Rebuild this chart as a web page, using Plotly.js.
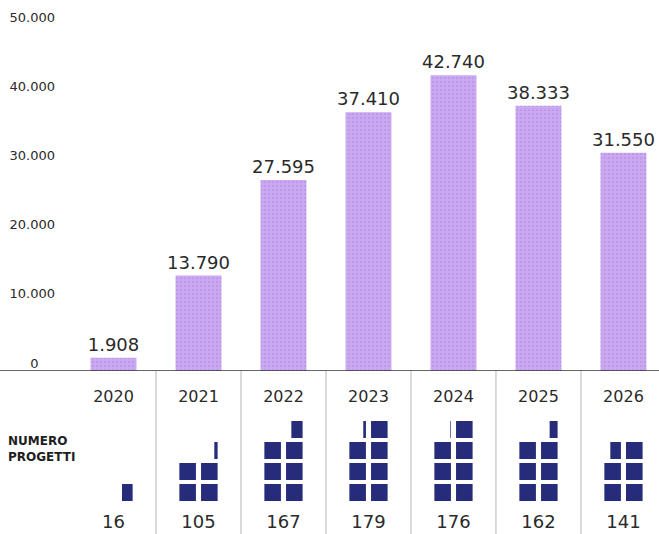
<!DOCTYPE html>
<html>
<head>
<meta charset="utf-8">
<script src="https://cdn.plot.ly/plotly-3.0.1.min.js"></script>
<style>html,body{margin:0;padding:0;background:#fff;}#chart{width:659px;height:534px;}</style>
</head>
<body>
<div id="chart"></div>
<script>
// ---- data ----
const years = ['2020', '2021', '2022', '2023', '2024', '2025', '2026'];
const amounts = [1908, 13790, 27595, 37410, 42740, 38333, 31550];
const projects = [16, 105, 167, 179, 176, 162, 141];
const yTickVals = [0, 10000, 20000, 30000, 40000, 50000];
const yTickText = ['0\u2007\u2007', '10.000', '20.000', '30.000', '40.000', '50.000'];
const perSquare = 25;
const projectsLabel = 'NUMERO<br>PROGETTI';

const FONT = '"DejaVu Sans", sans-serif';
const TXT = '#2a2a2a';
const NAVY = '#262c7a';
const BOTTOM = 0.3052; // fraction of paper for the lower band

const barTrace = {
  type: 'bar', x: years, y: amounts,
  marker: {
    color: '#cca8f1',
    line: {width: 0},
    pattern: {shape: '.', fillmode: 'overlay', fgcolor: '#a286da', fgopacity: 0.4, size: 4, solidity: 0.3}
  },
  texttemplate: '%{y:,}', textposition: 'outside', cliponaxis: false, constraintext: 'none',
  textfont: {family: FONT, size: 18, color: TXT},
  hoverinfo: 'skip', showlegend: false
};

const countTrace = {
  type: 'scatter', mode: 'text', x: years, y: projects.map(() => 10),
  text: projects.map(String), xaxis: 'x', yaxis: 'y2',
  textfont: {family: FONT, size: 18, color: TXT},
  cliponaxis: false, hoverinfo: 'skip', showlegend: false
};

const shapes = [];
// baseline
shapes.push({type: 'line', xref: 'paper', yref: 'y', x0: -71/588, x1: 1, y0: 0, y1: 0,
  line: {color: '#333', width: 1.5}, layer: 'above'});
// vertical separators
for (let i = 0; i < years.length - 1; i++) {
  shapes.push({type: 'line', xref: 'x', yref: 'paper', x0: i + 0.5, x1: i + 0.5, y0: 0, y1: BOTTOM,
    line: {color: '#b5b5b5', width: 1}});
}
// project squares: fill right then left, rows from bottom
projects.forEach((n, i) => {
  const full = Math.floor(n / perSquare);
  const rem = (n % perSquare) / perSquare;
  const cells = full + (rem > 0 ? 1 : 0);
  for (let k = 0; k < cells; k++) {
    const row = Math.floor(k / 2);
    const right = (k % 2 === 0);
    const x1 = right ? i + 0.225 : i - 0.03;
    const x0full = right ? i + 0.03 : i - 0.225;
    const frac = (k < full) ? 1 : rem;
    const x0 = x1 - frac * (x1 - x0full);
    shapes.push({type: 'rect', xref: 'x', yref: 'y2', x0: x0, x1: x1,
      y0: 33 + 21 * row, y1: 50 + 21 * row, line: {width: 0}, fillcolor: NAVY});
  }
});

const layout = {
  width: 659, height: 534,
  margin: {l: 71, r: 0, t: 0, b: 0},
  paper_bgcolor: '#fff', plot_bgcolor: 'rgba(0,0,0,0)',
  separators: ',.',
  bargap: 0.46,
  font: {family: FONT, color: TXT},
  xaxis: {type: 'category', range: [-0.5, 6.418], domain: [0, 1], anchor: 'y',
    showline: false, showgrid: false, zeroline: false, ticks: '',
    ticklabelstandoff: 14, tickfont: {family: FONT, size: 16, color: TXT}, fixedrange: true},
  yaxis: {domain: [BOTTOM, 1], range: [0, 53613], tickvals: yTickVals, ticktext: yTickText,
    showgrid: false, zeroline: false, showline: false, ticks: '',
    ticklabelshift: -8, ticklabelstandoff: 15,
    tickfont: {family: FONT, size: 13, color: TXT}, fixedrange: true},
  yaxis2: {domain: [0, BOTTOM], range: [0, 163], visible: false, anchor: 'x', fixedrange: true},
  shapes: shapes,
  annotations: [{xref: 'paper', yref: 'paper', x: -65/588, y: (534 - 449) / 534,
    xanchor: 'left', yanchor: 'middle', align: 'left', showarrow: false,
    text: '<b>' + projectsLabel + '</b>',
    font: {family: FONT, size: 12, color: '#1e1e1e'}}]
};

Plotly.newPlot('chart', [barTrace, countTrace], layout, {displayModeBar: false, staticPlot: true});
</script>
</body>
</html>
